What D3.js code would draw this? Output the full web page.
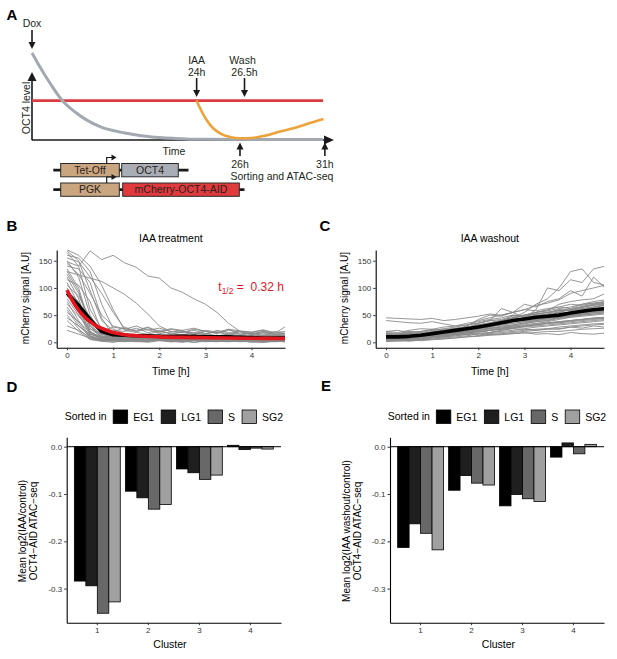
<!DOCTYPE html>
<html>
<head>
<meta charset="utf-8">
<script src="https://cdn.jsdelivr.net/npm/d3@7"></script>
<style>
  body {margin: 0; background: #fff;}
  svg text {font-family: "Liberation Sans", Arial, sans-serif;}
</style>
</head>
<body>
<div id="fig"></div>
<script>
//-- Panel A: schematic curves (x: schematic time 0-100, y: OCT4 level 0-100)
var sch_grey_u = [0, 2.6, 6, 9.9, 14.3, 22.6, 30.9, 39.2, 47.5, 55.8, 96.7];
var sch_grey_v = [100, 84, 65, 45.7, 31.8, 14.8, 7.5, 3.2, 1.2, 0.2, 0];
var sch_red_u = [0, 96.7];
var sch_red_v = [45, 45];
var sch_orange_u = [54.7, 55.8, 58, 60.1, 62.5, 65.8, 69.1, 73.1, 76.8, 82.4, 86.8, 92.4, 96.8];
var sch_orange_v = [45, 36.4, 22.5, 13.3, 7.2, 2.9, 1.4, 1.7, 4, 9.2, 12.9, 19, 23.7];
var sch_event_top = [{u: 0, lines: ['Dox']}, {u: 54.7, lines: ['IAA', '24h']}, {u: 70.6, lines: ['Wash', '26.5h']}];
var sch_event_bottom = [{u: 69.1, label: '26h'}, {u: 97.3, label: '31h'}];

//-- Panel B: IAA treatment, single-cell mCherry traces
var time_b = [0, 0.25, 0.5, 0.75, 1, 1.25, 1.5, 1.75, 2, 2.25, 2.5, 2.75, 3, 3.25, 3.5, 3.75, 4, 4.25, 4.5, 4.75];
var cells_b = [
  [148,140,168,152,160,146,138,122,118,100,92,80,70,55,35,20,18,22,16,30],
  [130,124,118,112,100,88,72,52,30,20,18,22,16,19,14,20,15,17,12,14],
  [168,150,95,40,22,20,26,18,22,15,20,17,14,22,18,15,16,20,14,17],
  [165,140,60,25,18,28,20,24,16,19,22,14,20,17,24,15,18,12,20,16],
  [160,155,130,70,25,15,12,14,10,12,9,11,13,10,12,9,11,8,10,12],
  [150,120,50,15,10,12,8,11,9,7,10,8,12,9,8,10,7,9,8,10],
  [140,135,110,45,12,8,10,7,9,11,8,10,6,9,7,8,10,7,9,6],
  [135,100,30,8,5,7,4,6,5,3,6,4,5,7,4,6,3,5,4,5],
  [130,95,25,10,12,9,11,8,10,9,7,10,12,8,9,11,8,7,10,8],
  [125,90,40,20,28,24,30,22,26,20,18,24,20,16,22,19,14,20,17,15],
  [120,80,20,5,3,6,2,4,5,3,1,4,2,5,3,2,4,1,3,2],
  [115,105,75,20,8,10,7,9,6,8,10,7,5,8,6,9,7,5,6,8],
  [110,70,15,8,6,9,5,7,8,6,4,7,9,5,6,4,7,5,3,5],
  [105,85,45,12,10,14,11,13,9,12,15,11,10,13,9,12,10,14,11,9],
  [100,60,18,6,4,2,5,3,4,6,2,5,3,4,2,5,3,4,2,3],
  [95,75,30,14,12,10,13,11,14,9,12,10,13,11,9,12,10,11,13,10],
  [90,55,12,3,1,4,2,0,3,1,2,0,3,2,1,3,0,2,1,2],
  [85,65,35,10,7,9,6,8,10,7,9,6,8,5,7,9,6,8,5,7],
  [80,50,20,8,10,7,9,12,8,10,7,9,11,8,6,9,7,10,8,6],
  [75,40,10,4,6,3,5,7,4,6,3,5,4,6,3,4,5,3,4,5],
  [70,48,25,15,12,14,11,13,10,12,14,11,13,10,12,9,11,13,10,12],
  [65,35,8,2,4,1,3,2,4,2,0,3,1,2,3,1,2,0,2,1],
  [60,30,12,6,8,5,7,9,6,8,5,7,6,4,7,5,6,8,5,6],
  [55,38,18,10,8,11,9,7,10,8,11,9,7,10,8,6,9,7,8,10],
  [50,25,6,3,5,2,4,6,3,5,2,4,3,5,2,4,3,2,4,3],
  [45,30,15,8,6,9,7,5,8,6,9,5,7,6,8,5,7,6,4,6],
  [40,20,5,2,0,3,1,2,4,1,3,0,2,1,3,2,1,0,2,1],
  [30,22,10,6,4,7,5,3,6,4,5,3,6,4,2,5,3,4,5,3],
  [22,15,8,5,3,6,4,2,5,3,4,6,3,2,4,3,5,2,3,4],
  [155,148,120,90,55,25,20,27,18,24,20,15,22,19,16,20,14,18,15,13],
  [170,160,140,105,60,22,18,15,20,17,14,18,16,12,15,13,17,12,14,11],
  [145,125,90,50,30,25,22,28,20,25,22,26,20,18,24,21,19,23,18,20]
];
var mean_b = [90,68,42,20,14,13,12,12,11,11,11,11,10,10,10,9,9,8,8,8];
var fit_time_b = [0, 0.1, 0.2, 0.3, 0.4, 0.5, 0.6, 0.8, 1, 1.25, 1.5, 2, 2.5, 3, 3.5, 4, 4.75];
var fit_b = [96, 79, 65, 54, 45, 38, 32, 24, 18, 14, 12, 10, 9, 8.5, 8, 7.5, 7];

//-- Panel C: IAA washout, single-cell mCherry traces
var time_c = [0, 0.25, 0.5, 0.75, 1, 1.25, 1.5, 1.75, 2, 2.25, 2.5, 2.75, 3, 3.25, 3.5, 3.75, 4, 4.25, 4.5, 4.75];
var cells_c = [
  [45,44,43,42,44,40,42,45,48,52,50,55,60,58,62,65,70,68,72,75],
  [40,38,36,35,38,34,30,32,35,40,38,42,45,50,48,55,52,58,60,62],
  [15,14,16,18,15,20,22,25,30,28,35,40,45,60,100,95,115,110,135,140],
  [10,12,8,15,18,20,25,28,32,35,40,45,55,70,80,100,130,135,110,105],
  [12,10,14,12,16,18,22,30,42,50,48,55,70,65,75,80,95,85,120,100],
  [8,9,7,10,12,15,18,22,28,32,38,50,48,55,58,70,75,78,80,90],
  [18,16,20,18,22,25,28,32,35,40,42,48,50,52,55,58,60,62,65,68],
  [5,8,6,10,12,15,18,20,24,26,30,32,36,40,42,45,48,50,52,55],
  [3,5,4,6,8,10,12,15,18,22,25,28,30,32,35,38,40,42,44,45],
  [14,12,15,13,16,18,20,24,28,30,34,38,42,45,48,52,55,58,62,65],
  [20,18,22,25,24,28,30,35,38,42,45,50,48,52,55,60,58,62,65,70],
  [6,4,7,5,8,10,12,14,16,18,20,22,25,28,30,32,34,36,38,40],
  [10,8,12,10,14,12,15,18,20,22,26,28,30,32,35,36,38,40,42,44],
  [2,4,3,5,6,8,10,12,15,16,18,20,22,24,25,28,30,32,34,35],
  [12,14,10,12,10,12,14,15,16,14,15,16,18,15,16,14,18,16,15,17],
  [8,6,10,8,12,10,15,18,20,18,22,25,24,22,25,24,28,26,30,28],
  [15,12,14,16,18,20,24,26,30,35,40,45,50,55,60,65,62,70,75,78],
  [4,6,5,8,10,12,14,18,22,25,28,32,35,38,40,45,48,52,55,58],
  [16,14,18,15,20,22,25,28,32,36,40,44,48,52,55,58,62,66,70,72],
  [9,11,10,12,14,16,18,22,25,28,32,35,38,40,44,46,50,54,56,60],
  [1,3,2,4,5,6,8,10,12,14,16,18,20,22,24,25,28,30,32,33],
  [13,15,12,14,16,20,22,24,26,30,32,35,38,42,44,48,50,55,58,60],
  [7,5,8,6,10,14,16,20,24,30,34,40,42,44,48,52,56,60,64,68],
  [11,13,9,12,15,17,20,24,28,32,36,40,44,48,52,56,60,64,68,72],
  [17,15,19,20,22,24,25,28,30,32,35,38,40,42,45,48,50,52,55,57],
  [5,7,4,8,10,12,15,16,20,22,24,26,30,32,35,36,40,42,45,46],
  [14,10,16,12,18,20,22,25,35,40,62,55,45,50,52,60,58,65,70,75],
  [10,12,11,14,15,18,20,25,30,35,40,45,50,55,58,62,65,70,72,74],
  [6,8,5,10,12,14,16,20,12,18,22,26,30,34,38,42,46,50,52,54],
  [20,22,18,20,24,22,26,28,32,34,36,40,42,44,45,48,50,52,54,56],
  [12,10,13,11,14,16,18,20,22,24,26,30,32,35,36,38,40,42,44,45],
  [3,2,4,3,5,7,8,10,11,13,14,16,17,18,20,20,22,24,25,26],
  [9,7,11,9,13,15,18,22,26,30,34,38,42,46,50,55,60,65,68,70],
  [15,13,17,14,18,20,24,30,40,45,50,55,60,68,72,78,90,95,100,105],
  [8,10,9,11,12,14,16,18,20,22,24,26,28,30,32,34,36,38,40,42],
  [11,9,12,10,14,15,17,20,24,26,28,30,34,38,40,44,46,48,50,52]
];
var mean_c = [10,10,11,13,16,19,22,25,28,32,36,40,43,46,48,50,54,57,60,62];

//-- Panels D and E: mean log2 ratio per cluster and sorted phase
var clusters = ['1', '2', '3', '4'];
var phases = ['EG1', 'LG1', 'S', 'SG2'];
var phase_colors = ['#000000', '#1f1f1f', '#686868', '#a0a0a0'];
var ratio_d = [
  [-0.284, -0.294, -0.352, -0.328],
  [-0.094, -0.108, -0.132, -0.122],
  [-0.047, -0.055, -0.069, -0.060],
  [0.003, -0.006, -0.003, -0.005]
];
var ratio_e = [
  [-0.213, -0.163, -0.183, -0.218],
  [-0.092, -0.061, -0.077, -0.081],
  [-0.125, -0.101, -0.110, -0.116],
  [-0.022, 0.008, -0.015, 0.005]
];

var svg = d3.select('#fig')
  .append('svg')
    .attr('width', 617)
    .attr('height', 659);

svg.append('rect')
    .attr('width', 617)
    .attr('height', 659)
    .attr('fill', 'white');

//-- Arrow helper (vertical)
function Draw_Arrow(g, x, y1, y2, w) {
  var dir = y2 > y1 ? 1 : -1;
  g.append('line')
      .attr('x1', x).attr('x2', x)
      .attr('y1', y1).attr('y2', y2 - dir * 6)
      .attr('stroke', '#1a1a1a')
      .attr('stroke-width', w);
  g.append('path')
      .attr('d', 'M' + (x - 3.5) + ',' + (y2 - dir * 7) + 'L' + (x + 3.5) + ',' + (y2 - dir * 7) + 'L' + x + ',' + y2 + 'Z')
      .attr('fill', '#1a1a1a');
}

function SCH_Draw() {
  var g = svg.append('g').attr('class', 'schematic');
  var x = d3.scaleLinear().domain([0, 100]).range([32, 333]);
  var y = d3.scaleLinear().domain([0, 100]).range([139.5, 53]);
  var line = d3.line()
    .x(function (d) {return x(d[0]);})
    .y(function (d) {return y(d[1]);})
    .curve(d3.curveMonotoneX);
  var txt = {'font-size': '10.5px', 'fill': '#231f20'};

  //-- Axes with arrow heads
  g.append('line')
      .attr('x1', x(0)).attr('x2', x(0))
      .attr('y1', y(0) + 0.8).attr('y2', 79)
      .attr('stroke', '#1a1a1a').attr('stroke-width', 1.6);
  g.append('path')
      .attr('d', 'M' + (x(0) - 4.5) + ',81L' + (x(0) + 4.5) + ',81L' + x(0) + ',72Z')
      .attr('fill', '#1a1a1a');
  g.append('line')
      .attr('x1', x(0)).attr('x2', x(100) - 7)
      .attr('y1', y(0) + 0.5).attr('y2', y(0) + 0.5)
      .attr('stroke', '#1a1a1a').attr('stroke-width', 1.6);
  g.append('path')
      .attr('d', 'M' + (x(100) - 9) + ',' + (y(0) - 4) + 'L' + (x(100) - 9) + ',' + (y(0) + 5) + 'L' + (x(100) + 1) + ',' + (y(0) + 0.5) + 'Z')
      .attr('fill', '#1a1a1a');

  //-- Curves
  g.append('path')
      .attr('d', line(d3.zip(sch_red_u, sch_red_v)))
      .attr('fill', 'none').attr('stroke', '#db3a40').attr('stroke-width', 2.6);
  g.append('path')
      .attr('d', line(d3.zip(sch_grey_u, sch_grey_v)))
      .attr('fill', 'none').attr('stroke', '#a3a9b1').attr('stroke-width', 3);
  g.append('path')
      .attr('d', line(d3.zip(sch_orange_u, sch_orange_v)))
      .attr('fill', 'none').attr('stroke', '#eea33a').attr('stroke-width', 2.6);

  //-- Top events
  sch_event_top.forEach(function (d, k) {
    var n = d.lines.length;
    d.lines.forEach(function (s, i) {
      g.append('text')
          .attr('x', x(d.u) + (k == 2 && i == 0 ? -2 : 0))
          .attr('y', n == 1 ? 27 : 63.5 + i * 12)
          .attr('text-anchor', 'middle')
          .style('font-size', txt['font-size']).style('fill', txt.fill)
          .text(s);
    });
    if (n == 1) Draw_Arrow(g, x(d.u), 30, 49, 1.6);
    else Draw_Arrow(g, x(d.u), 78, 97, 1.6);
  });

  //-- Bottom events
  sch_event_bottom.forEach(function (d) {
    Draw_Arrow(g, x(d.u), 156, 142.5, 1.6);
    g.append('text')
        .attr('x', x(d.u))
        .attr('y', 168)
        .attr('text-anchor', 'middle')
        .style('font-size', txt['font-size']).style('fill', txt.fill)
        .text(d.label);
  });
  g.append('text')
      .attr('x', 230.5).attr('y', 180)
      .style('font-size', txt['font-size']).style('fill', txt.fill)
      .text('Sorting and ATAC-seq');
  g.append('text')
      .attr('x', 174).attr('y', 155)
      .attr('text-anchor', 'middle')
      .style('font-size', txt['font-size']).style('fill', txt.fill)
      .text('Time');
  g.append('text')
      .attr('transform', 'translate(30,108) rotate(-90)')
      .attr('text-anchor', 'middle')
      .style('font-size', txt['font-size']).style('fill', txt.fill)
      .text('OCT4 level');

  //-- Constructs
  var rows = [
    {y: 163.5, h: 13.3, end: 188.5, boxes: [
      {x0: 60.7, x1: 119.3, label: 'Tet-Off', color: '#c9a680'},
      {x0: 121.7, x1: 178.3, label: 'OCT4', color: '#a9aeb6'}]},
    {y: 183, h: 13.3, end: 244.5, boxes: [
      {x0: 60.7, x1: 119.3, label: 'PGK', color: '#c9a680'},
      {x0: 122.7, x1: 239.3, label: 'mCherry-OCT4-AID', color: '#e03a3d'}]}
  ];
  rows.forEach(function (r) {
    g.append('line')
        .attr('x1', 53.3).attr('x2', r.end)
        .attr('y1', r.y + r.h / 2).attr('y2', r.y + r.h / 2)
        .attr('stroke', '#1a1a1a').attr('stroke-width', 2.6);
    r.boxes.forEach(function (b) {
      g.append('rect')
          .attr('x', b.x0).attr('y', r.y)
          .attr('width', b.x1 - b.x0).attr('height', r.h)
          .attr('fill', b.color)
          .attr('stroke', '#2a2a2a').attr('stroke-width', 1);
      g.append('text')
          .attr('x', (b.x0 + b.x1) / 2).attr('y', r.y + r.h / 2 + 3.8)
          .attr('text-anchor', 'middle')
          .style('font-size', '10.5px').style('fill', '#2b2120')
          .text(b.label);
    });
    //-- Promoter bent arrow
    g.append('path')
        .attr('d', 'M106.7,' + r.y + 'V' + (r.y - 6) + 'H112')
        .attr('fill', 'none').attr('stroke', '#1a1a1a').attr('stroke-width', 1.2);
    g.append('path')
        .attr('d', 'M111.5,' + (r.y - 9) + 'L116.5,' + (r.y - 6) + 'L111.5,' + (r.y - 3) + 'Z')
        .attr('fill', '#1a1a1a');
  });
}

function TS_Draw(o) {
  var x = d3.scaleLinear().domain([-0.225, 4.725]).range([o.left, o.right]);
  var y = d3.scaleLinear().domain([-9.9, 169.7]).range([347.7, 250]);

  svg.append('clipPath')
      .attr('id', 'clip_' + o.name)
    .append('rect')
      .attr('x', o.left).attr('y', 250)
      .attr('width', o.right - o.left).attr('height', 97.7);

  var g = svg.append('g').attr('clip-path', 'url(#clip_' + o.name + ')');

  var line_cell = d3.line()
    .x(function (d, i) {return x(o.time[i]);})
    .y(function (d) {return y(d);});

  g.selectAll('.cell')
    .data(o.cells)
    .enter()
    .append('path')
      .attr('class', 'cell')
      .attr('d', line_cell)
      .attr('fill', 'none')
      .attr('stroke', '#8a8a8a')
      .attr('stroke-width', 0.9);

  g.append('path')
      .attr('d', line_cell(o.mean))
      .attr('fill', 'none')
      .attr('stroke', '#000')
      .attr('stroke-width', 3.6)
      .attr('stroke-linejoin', 'round');

  if (o.fit) {
    var line_fit = d3.line()
      .x(function (d, i) {return x(o.fit_time[i]);})
      .y(function (d) {return y(d);})
      .curve(d3.curveMonotoneX);
    g.append('path')
        .attr('d', line_fit(o.fit))
        .attr('fill', 'none')
        .attr('stroke', '#e3161d')
        .attr('stroke-width', 3.6);
  }

  //-- Axes
  var x_axis = d3.axisBottom(x)
    .tickValues([0, 1, 2, 3, 4])
    .tickFormat(function (d) {return d;})
    .tickSize(2.5).tickSizeOuter(0).tickPadding(2);
  var y_axis = d3.axisLeft(y)
    .tickValues([0, 50, 100, 150])
    .tickFormat(function (d) {return d;})
    .tickSize(2.5).tickSizeOuter(0).tickPadding(2);

  var ax = svg.append('g')
      .attr('transform', 'translate(0,347.7)')
      .call(x_axis);
  var ay = svg.append('g')
      .attr('transform', 'translate(' + o.left + ',0)')
      .call(y_axis);
  [ax, ay].forEach(function (a) {
    a.select('.domain').attr('stroke', '#000').attr('stroke-width', 1.1);
    a.selectAll('.tick line').attr('stroke', '#333');
    a.selectAll('.tick text')
        .style('font-size', '8px')
        .style('font-family', '"Liberation Sans", Arial, sans-serif')
        .style('fill', '#333');
  });

  svg.append('text')
      .attr('x', (o.left + o.right) / 2).attr('y', 242)
      .attr('text-anchor', 'middle')
      .style('font-size', '10.5px')
      .text(o.title);
  svg.append('text')
      .attr('x', (o.left + o.right) / 2).attr('y', 374.5)
      .attr('text-anchor', 'middle')
      .style('font-size', '10.5px')
      .text('Time [h]');
  svg.append('text')
      .attr('transform', 'translate(' + (o.left - 27.5) + ',298) rotate(-90)')
      .attr('text-anchor', 'middle')
      .style('font-size', '10px')
      .text('mCherry signal [A.U]');

  if (o.fit) {
    var t = svg.append('text')
        .attr('x', 218.3).attr('y', 290.5)
        .style('font-size', '12px')
        .style('fill', '#e3161d')
        .style('white-space', 'pre');
    t.append('tspan').text('t');
    t.append('tspan').attr('dy', 3).style('font-size', '8.5px').text('1/2');
    t.append('tspan').attr('dy', -3).text(' =  0.32 h');
  }
}

function BAR_Draw(o) {
  var x = d3.scaleBand()
    .domain(clusters)
    .range([o.left, o.right])
    .paddingInner(0.1)
    .paddingOuter(0.15);
  var xs = d3.scaleBand()
    .domain(phases)
    .range([0, x.bandwidth()]);
  var y = d3.scaleLinear()
    .domain([-0.372, 0.0199])
    .range([622.7, 437.3]);

  var bars = [];
  clusters.forEach(function (c, i) {
    phases.forEach(function (p, j) {
      bars.push({cluster: c, phase: p, value: o.values[i][j], color: phase_colors[j]});
    });
  });

  svg.selectAll()
    .data(bars)
    .enter()
    .append('rect')
      .attr('x', function (d) {return x(d.cluster) + xs(d.phase);})
      .attr('y', function (d) {return y(Math.max(0, d.value));})
      .attr('width', xs.bandwidth())
      .attr('height', function (d) {return Math.abs(y(d.value) - y(0));})
      .attr('fill', function (d) {return d.color;})
      .attr('stroke', '#000')
      .attr('stroke-width', 0.8);

  svg.append('line')
      .attr('x1', o.left).attr('x2', o.right)
      .attr('y1', y(0)).attr('y2', y(0))
      .attr('stroke', '#000')
      .attr('stroke-width', 1);

  var x_axis = d3.axisBottom(x).tickSize(2.5).tickSizeOuter(0).tickPadding(2);
  var y_axis = d3.axisLeft(y)
    .tickValues([0, -0.1, -0.2, -0.3])
    .tickFormat(function (d) {return d.toFixed(1);})
    .tickSize(2.5).tickSizeOuter(0).tickPadding(2);

  var ax = svg.append('g')
      .attr('transform', 'translate(0,622.7)')
      .call(x_axis);
  var ay = svg.append('g')
      .attr('transform', 'translate(' + o.left + ',0)')
      .call(y_axis);
  [ax, ay].forEach(function (a) {
    a.select('.domain').attr('stroke', '#000').attr('stroke-width', 1.1);
    a.selectAll('.tick line').attr('stroke', '#333');
    a.selectAll('.tick text')
        .style('font-size', '8px')
        .style('font-family', '"Liberation Sans", Arial, sans-serif')
        .style('fill', '#333');
  });

  svg.append('text')
      .attr('x', o.xlab_x).attr('y', 648)
      .attr('text-anchor', 'middle')
      .style('font-size', '10.5px')
      .text('Cluster');

  o.ylab.forEach(function (s, i) {
    svg.append('text')
        .attr('transform', 'translate(' + (o.ylab_x + i * 11) + ',531) rotate(-90)')
        .attr('text-anchor', 'middle')
        .style('font-size', '10px')
        .text(s);
  });

  //-- Legend
  var lg = svg.append('g');
  var cx = 0;
  var t0 = lg.append('text')
      .attr('x', cx).attr('y', 420)
      .style('font-size', '10.5px')
      .text('Sorted in');
  cx += t0.node().getComputedTextLength() + 6.5;
  phases.forEach(function (p, j) {
    lg.append('rect')
        .attr('x', cx).attr('y', 410)
        .attr('width', 14.5).attr('height', 13.5)
        .attr('fill', phase_colors[j])
        .attr('stroke', '#000')
        .attr('stroke-width', 0.8);
    cx += 14.5 + 5.5;
    var t = lg.append('text')
        .attr('x', cx).attr('y', 420.5)
        .style('font-size', '10.5px')
        .text(p);
    cx += t.node().getComputedTextLength() + (j < phases.length - 1 ? 7 : 0);
  });
  lg.attr('transform', 'translate(' + ((o.left + o.right) / 2 - cx / 2) + ',0)');
}

SCH_Draw();

TS_Draw({name: 'b', left: 56.7, right: 285, time: time_b, cells: cells_b, mean: mean_b,
         fit: fit_b, fit_time: fit_time_b, title: 'IAA treatment'});
TS_Draw({name: 'c', left: 375.7, right: 604, time: time_c, cells: cells_c, mean: mean_c,
         title: 'IAA washout'});

BAR_Draw({left: 66.7, right: 281, values: ratio_d, xlab_x: 170, ylab_x: 26,
          ylab: ['Mean log2(IAA/control)', 'OCT4\u2212AID ATAC\u2212seq']});
BAR_Draw({left: 390, right: 604, values: ratio_e, xlab_x: 498.5, ylab_x: 349.5,
          ylab: ['Mean log2(IAA washout/control)', 'OCT4\u2212AID ATAC\u2212seq']});

//-- Panel letters
var panel_letters = ['A', 'B', 'C', 'D', 'E'];
var panel_pos = [[6.5, 20], [6.5, 230.5], [319.5, 230.5], [6.5, 391.5], [321, 391]];
svg.selectAll('.panel_letter')
  .data(panel_letters)
  .enter()
  .append('text')
    .attr('class', 'panel_letter')
    .attr('x', function (d, i) {return panel_pos[i][0];})
    .attr('y', function (d, i) {return panel_pos[i][1];})
    .style('font-size', '15px')
    .style('font-weight', 'bold')
    .text(function (d) {return d;});
</script>
</body>
</html>
